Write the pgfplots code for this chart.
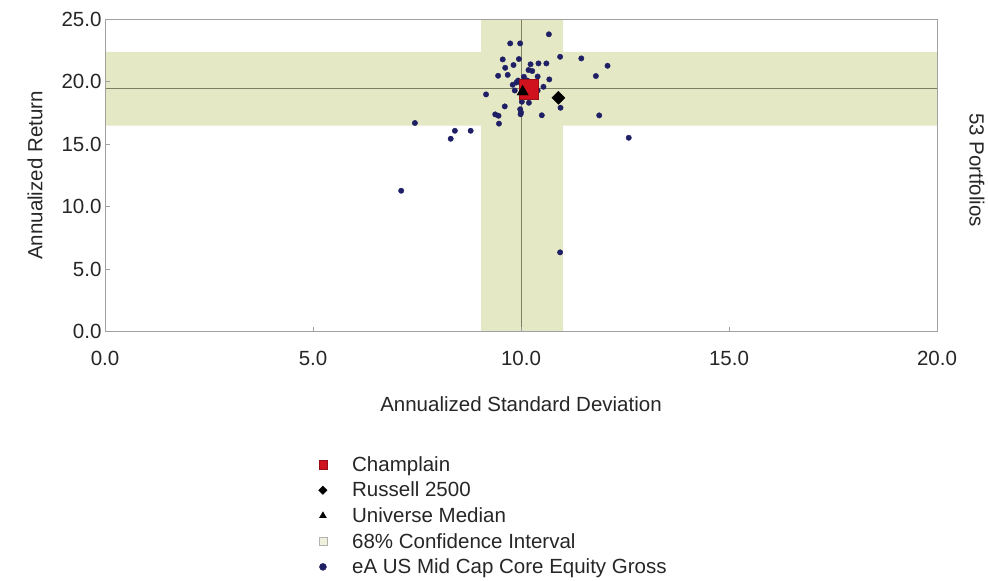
\documentclass[border=0pt]{standalone}
\usepackage{fontspec}
\setmainfont{Liberation Sans}
\usepackage{pgfplots}
\pgfplotsset{compat=1.18}
\definecolor{band}{HTML}{E4E8C4}
\definecolor{cross}{HTML}{7E7E62}
\definecolor{dotc}{HTML}{1F1F66}
\definecolor{champ}{HTML}{D0121E}
\definecolor{frame}{HTML}{A0A0A0}
\newcommand\fs{\fontsize{20.5}{24}\selectfont}
\begin{document}
\begin{tikzpicture}
\useasboundingbox (0,0) rectangle (988pt,581pt);
\begin{axis}[
  at={(105pt,249.3pt)}, anchor=south west,
  scale only axis, width=832pt, height=312.4pt,
  xmin=0, xmax=20, ymin=0, ymax=25,
  clip=false,
  xtick={0,5,...,20}, ytick={0,5,...,25},
  xtick pos=bottom, ytick pos=left,
  tick align=inside, major tick length=5pt,
  tick style={frame, line width=0.8pt},
  axis line style={frame, line width=1pt},
  axis on top,
  /pgf/number format/fixed, /pgf/number format/fixed zerofill,
  /pgf/number format/precision=1, /pgf/number format/assume math mode=true,
  tick label style={font=\fs, text=black!85},
  xticklabel style={yshift=-16pt},
  xlabel={Annualized Standard Deviation},
  ylabel={Annualized Return},
  label style={font=\fs, text=black!85},
  xlabel style={at={(axis description cs:0.5,-0.2314)}, anchor=center},
  ylabel style={at={(axis description cs:-0.0841,0.5)}, anchor=center},
  legend style={at={(axis description cs:0.2530,-0.386)}, anchor=north west,
    draw=none, fill=none, font=\fs, text=black!85, row sep=5.2pt, column sep=23pt},
  legend cell align=left,
]
\addlegendimage{only marks, mark=square*, mark size=4.2pt, mark options={fill=champ, draw=champ!70!black}}
\addlegendentry{Champlain}
\addlegendimage{only marks, mark=square*, mark size=3pt, mark options={rotate=45, fill=black, draw=black}}
\addlegendentry{Russell 2500}
\addlegendimage{only marks, mark=triangle*, mark size=4pt, mark options={fill=black, draw=black}}
\addlegendentry{Universe Median}
\addlegendimage{only marks, mark=square*, mark size=4pt, mark options={fill=band!60, draw=gray!60}}
\addlegendentry{68\% Confidence Interval}
\addlegendimage{only marks, mark=*, mark size=3.5pt, mark options={fill=dotc, draw=dotc}}
\addlegendentry{eA US Mid Cap Core Equity Gross}

% 68% confidence bands
\addplot[fill=band, draw=none, forget plot] coordinates {(0,16.5) (20,16.5) (20,22.4) (0,22.4) (0,16.5)};
\addplot[fill=band, draw=none, forget plot] coordinates {(9.04,0) (11.01,0) (11.01,25) (9.04,25) (9.04,0)};
% median cross lines
\addplot[cross, line width=1.3pt, forget plot] coordinates {(0,19.47) (20,19.47)};
\addplot[cross, line width=1.3pt, forget plot] coordinates {(10.02,0) (10.02,25)};
% universe portfolios
\addplot[only marks, mark=*, mark size=2.7pt, mark options={fill=dotc, draw=dotc}, forget plot] table {
x y
10.67 23.80
9.74 23.07
9.98 23.07
10.94 22.00
11.45 21.87
9.56 21.79
9.95 21.82
9.62 21.12
9.82 21.34
10.23 21.40
10.42 21.47
10.61 21.47
10.18 20.94
10.27 20.86
9.45 20.48
9.68 20.55
10.07 20.40
10.40 20.42
10.68 20.19
9.80 19.76
9.89 19.94
10.54 19.60
9.85 19.30
9.16 18.99
9.61 18.03
10.02 18.40
10.19 18.32
10.95 17.92
9.98 17.80
10.00 17.55
9.99 17.40
9.38 17.39
9.46 17.28
10.50 17.32
9.47 16.65
7.45 16.70
8.41 16.08
8.79 16.08
8.31 15.44
7.12 11.28
10.94 6.35
12.59 15.52
11.88 17.31
11.80 20.46
12.08 21.28
10.00 19.90
10.30 19.70
10.10 19.10
10.40 19.30
9.93 20.10
10.15 20.10
10.05 19.40
10.25 19.00
};
% Champlain
\addplot[only marks, mark=square*, mark size=9.7pt, mark options={fill=champ, draw=champ!75!black}, forget plot] coordinates {(10.19,19.42)};
% Universe median
\addplot[only marks, mark=triangle*, mark size=6.5pt, mark options={fill=black, draw=black}, forget plot] coordinates {(10.04,19.20)};
% Russell 2500
\addplot[only marks, mark=square*, mark size=4.6pt, mark options={rotate=45, fill=black, draw=black}, forget plot] coordinates {(10.90,18.72)};
\node[font=\fs, text=black!85, rotate=-90, anchor=center] at (axis description cs:1.0480,0.5176) {53 Portfolios};
\end{axis}
\end{tikzpicture}
\end{document}
